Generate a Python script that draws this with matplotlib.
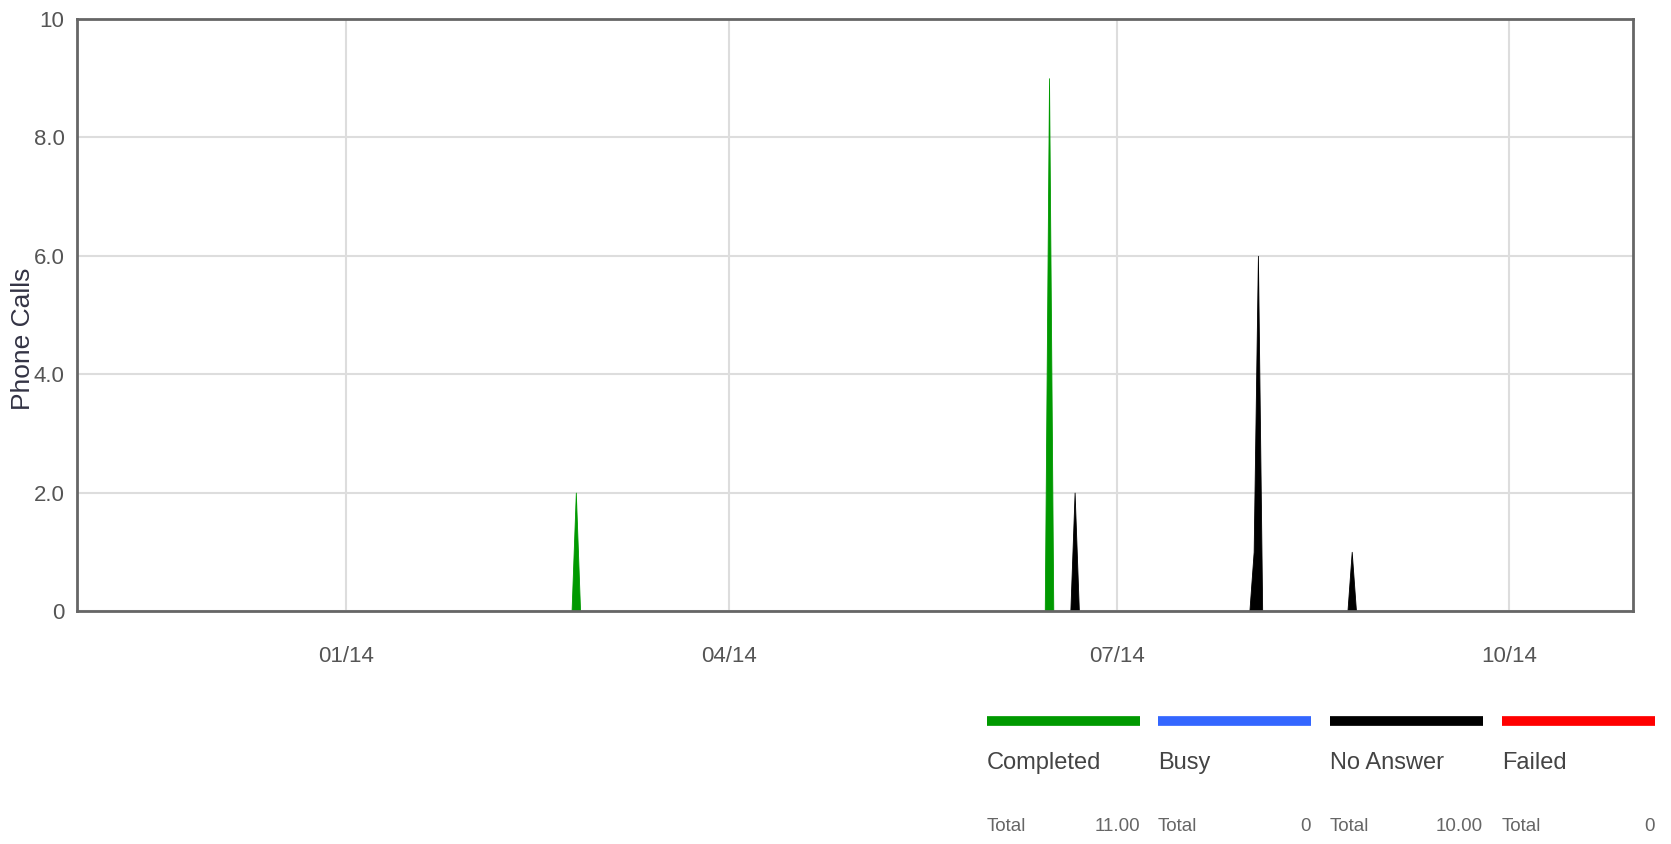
import numpy as np
import pandas as pd
import matplotlib
matplotlib.use("Agg")
import matplotlib.pyplot as plt
import matplotlib.dates as mdates
from matplotlib.lines import Line2D

plt.rcParams['font.family'] = ['Liberation Sans Narrow', 'Liberation Sans', 'DejaVu Sans']

# Данные: дни с звонками (остальные дни = 0)
start_date = "2013-10-30"
end_date = "2014-10-30"

series_names = ["Completed", "Busy", "No Answer", "Failed"]
series_colors = ["#009900", "#3366ff", "#000000", "#ff0000"]

completed_dates = ["2014-02-24", "2014-06-15"]
completed_vals = [2, 9]
busy_dates = []
busy_vals = []
noanswer_dates = ["2014-06-21", "2014-08-02", "2014-08-03", "2014-08-25"]
noanswer_vals = [2, 1, 6, 1]
failed_dates = []
failed_vals = []

totals = ["11.00", "0", "10.00", "0"]

yticks = [0, 2, 4, 6, 8, 10]
ytick_labels = ["0", "2.0", "4.0", "6.0", "8.0", "10"]

days = pd.date_range(start_date, end_date, freq="D")


def daily(dates, vals):
    s = pd.Series(0.0, index=days)
    for d, v in zip(dates, vals):
        s[pd.Timestamp(d)] = v
    return s


data = [daily(completed_dates, completed_vals), daily(busy_dates, busy_vals),
        daily(noanswer_dates, noanswer_vals), daily(failed_dates, failed_vals)]

fig = plt.figure(figsize=(16.71, 8.44), dpi=100)
ax = fig.add_axes([0.0461, 0.2761, 0.9312, 0.7014])

for s, c in zip(data, series_colors):
    ax.fill_between(s.index, 0, s.values, color=c, linewidth=0.6, edgecolor=c)

ax.set_xlim(pd.Timestamp(start_date), pd.Timestamp(end_date))
ax.set_ylim(0, 10)
ax.set_yticks(yticks)
ax.set_yticklabels(ytick_labels)
ax.xaxis.set_major_locator(mdates.MonthLocator(bymonth=[1, 4, 7, 10]))
ax.xaxis.set_major_formatter(mdates.DateFormatter('%m/%y'))

ax.grid(True, color="#dddddd", linewidth=1.5)
ax.set_axisbelow(True)
for sp in ax.spines.values():
    sp.set_color("#666666")
    sp.set_linewidth(2)
ax.tick_params(axis='both', length=0, colors="#555555", labelsize=16)
ax.tick_params(axis='x', pad=25)
ax.tick_params(axis='y', pad=9)

ax.set_ylabel("Phone Calls", family=['Liberation Sans', 'DejaVu Sans'], fontsize=19, color="#333344")
ax.yaxis.set_label_coords(-0.027, 0.46)

# Легенда снизу
x0 = [0.5907, 0.6930, 0.7959, 0.8989]
w = 0.0915
for i in range(4):
    fig.add_artist(Line2D([x0[i], x0[i] + w], [0.146, 0.146], color=series_colors[i],
                          linewidth=7, solid_capstyle='butt', transform=fig.transFigure))
    fig.text(x0[i], 0.096, series_names[i], fontsize=17, color="#444444", va='center', ha='left')
    fig.text(x0[i], 0.021, "Total", fontsize=13.5, color="#666666", va='center', ha='left')
    fig.text(x0[i] + w, 0.021, totals[i], fontsize=13.5, color="#666666", va='center', ha='right')

fig.savefig("out.png", dpi=100)
